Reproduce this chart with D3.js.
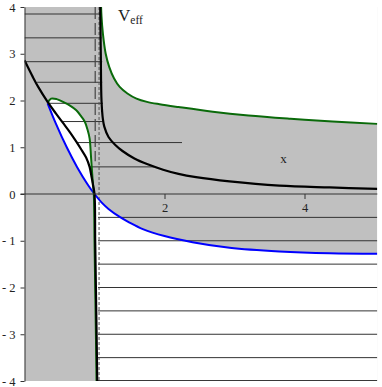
<!DOCTYPE html>
<html>
<head>
<meta charset="utf-8">
<script src="https://cdn.jsdelivr.net/npm/d3@7"></script>
<style>
  body { margin: 0; background: #fff; }
  text { font-family: "Liberation Serif", "DejaVu Serif", serif; fill: #222; }
</style>
</head>
<body>
<div id="root"></div>
<script>
// Curves, as [x, y]
const blueCurve = [[0.33, 1.94], [0.45, 1.5], [0.6, 1.01], [0.75, 0.58], [0.9, 0.21], [1.0, 0.0],
  [1.1, -0.18], [1.2, -0.32], [1.36, -0.49], [1.5, -0.61], [1.69, -0.75], [2.0, -0.9], [2.4, -1.03],
  [2.93, -1.15], [3.64, -1.23], [4.36, -1.27], [5.04, -1.28]];
const greenLoop = [[0.33, 1.95], [0.38, 2.04], [0.46, 2.03], [0.55, 1.97], [0.65, 1.89], [0.74, 1.79],
  [0.81, 1.66], [0.86, 1.55], [0.9, 1.38], [0.93, 1.19], [0.95, 0.8], [0.97, 0.37], [0.99, 0.0],
  [1.0, -1], [1.01, -2], [1.02, -3], [1.03, -4.1]];
const greenRight = [[1.09, 4.2], [1.1, 3.8], [1.12, 3.43], [1.16, 3.0], [1.21, 2.72], [1.28, 2.47],
  [1.36, 2.29], [1.47, 2.15], [1.6, 2.04], [1.75, 1.97], [1.93, 1.92], [2.2, 1.86], [2.69, 1.76],
  [3.2, 1.68], [3.8, 1.61], [4.4, 1.55], [5.04, 1.5]];
const blackLeft = [[0, 2.86], [0.12, 2.5], [0.2, 2.28], [0.33, 1.97], [0.45, 1.72], [0.55, 1.52],
  [0.65, 1.32], [0.74, 1.12], [0.82, 0.93], [0.88, 0.78], [0.93, 0.58], [0.96, 0.35], [0.98, 0.18],
  [1.0, 0], [1.01, -1], [1.02, -2], [1.03, -3], [1.04, -4.1]];
const blackRight = [[1.08, 4.2], [1.09, 3.0], [1.1, 2.0], [1.12, 1.6], [1.14, 1.44], [1.2, 1.22],
  [1.29, 1.06], [1.4, 0.92], [1.57, 0.76], [1.75, 0.64], [1.98, 0.52], [2.2, 0.43], [2.45, 0.36],
  [2.93, 0.27], [3.64, 0.18], [4.36, 0.14], [5.04, 0.11]];

// Energy levels and where each segment starts / stops
const levelE = [3.85, 3.34, 2.83, 2.39, 1.94, 1.55, 1.10, 0.58, -0.5, -1, -1.5, -2, -2.5, -3, -3.5, -3.99];
const levelFrom = [0, 0, 0, 0.18, 0.33, 0.53, 0.76, 0.93, 1.05, 1.05, 1.05, 1.05, 1.05, 1.05, 1.05, 1.05];
const levelTo = [1.09, 1.1, 1.11, 1.11, 1.12, 1.12, 2.25, 1.85, 5.04, 5.04, 5.04, 5.04, 5.04, 5.04, 5.04, 5.04];

// Vertical guide lines
const dashedX = 1.01, dashedY = [4, 0.7];
const dottedX = 1.065;

const yTicks = [-4, -3, -2, -1, 0, 1, 2, 3, 4];
const xTicks = [2, 4];

const width = 382, height = 387;
const x = d3.scaleLinear().domain([0, 5.04]).range([24.5, 377.3]);
const y = d3.scaleLinear().domain([-4, 4]).range([381, 7]);

const svg = d3.select('#root')
  .append('svg')
  .attr('width', width)
  .attr('height', height);

svg.append('clipPath').attr('id', 'plot')
  .append('rect')
  .attr('x', x(0)).attr('y', y(4))
  .attr('width', x(5.04) - x(0)).attr('height', y(-4) - y(4));

const g = svg.append('g').attr('clip-path', 'url(#plot)');
const line = d3.line().x(d => x(d[0])).y(d => y(d[1])).curve(d3.curveCatmullRom.alpha(0.5));
const straight = d3.line().x(d => x(d[0])).y(d => y(d[1]));

// join curved pieces and straight corners into one closed outline
const outline = parts => parts
  .map((p, i) => (p.straight ? straight(p.pts) : line(p.pts)).replace(/^M/, i ? 'L' : 'M'))
  .join('') + 'Z';

// grey background, then white holes
g.append('rect')
  .attr('x', x(0)).attr('y', y(4))
  .attr('width', x(5.04) - x(0)).attr('height', y(-4) - y(4))
  .attr('fill', '#c0c0c0');

const holes = [
  [{pts: blueCurve.filter(d => d[0] <= 1.0)},
   {pts: greenLoop.filter(d => d[1] >= 0).reverse()}],
  [{pts: greenRight},
   {pts: [[5.04, 1.5], [5.3, 1.5], [5.3, 4.5], [1.09, 4.5]], straight: true}],
  [{pts: blueCurve.filter(d => d[0] >= 1.0)},
   {pts: [[5.04, -1.28], [5.3, -1.28], [5.3, -4.5], [1.04, -4.5]], straight: true},
   {pts: blackLeft.filter(d => d[1] <= 0).reverse()}]
];
holes.forEach(h => {
  g.append('path').attr('d', outline(h)).attr('fill', '#fff');
});

// levels
g.selectAll('.level')
  .data(levelE)
  .enter()
    .append('line')
    .attr('x1', (d, i) => x(levelFrom[i]))
    .attr('x2', (d, i) => x(levelTo[i]))
    .attr('y1', d => y(d))
    .attr('y2', d => y(d))
    .attr('stroke', '#333')
    .attr('stroke-width', 1);

// vertical guides
g.append('line')
  .attr('x1', x(dashedX)).attr('x2', x(dashedX))
  .attr('y1', y(dashedY[0])).attr('y2', y(dashedY[1]))
  .attr('stroke', '#444').attr('stroke-width', 1.2)
  .attr('stroke-dasharray', '12,4');
g.append('line')
  .attr('x1', x(dottedX)).attr('x2', x(dottedX))
  .attr('y1', y(4)).attr('y2', y(-4))
  .attr('stroke', '#555').attr('stroke-width', 1)
  .attr('stroke-dasharray', '3,2');

// curves
const curves = [
  {data: blueCurve, color: '#0000ff', w: 2},
  {data: greenLoop, color: '#0a6a0a', w: 2},
  {data: greenRight, color: '#0a6a0a', w: 2},
  {data: blackLeft, color: '#000', w: 2.2},
  {data: blackRight, color: '#000', w: 2.2}
];
g.selectAll('.curve')
  .data(curves)
  .enter()
    .append('path')
    .attr('d', d => line(d.data))
    .attr('fill', 'none')
    .attr('stroke', d => d.color)
    .attr('stroke-width', d => d.w);

// axes
const fmt = d => d < 0 ? '- ' + Math.abs(d) : String(d);
const yAxis = svg.append('g')
  .attr('transform', `translate(${x(0)},0)`)
  .call(d3.axisLeft(y).tickValues(yTicks).tickFormat(fmt).tickSize(4).tickSizeOuter(0).tickPadding(5));
const xAxis = svg.append('g')
  .attr('transform', `translate(0,${y(0)})`)
  .call(d3.axisBottom(x).tickValues(xTicks).tickFormat(d3.format('d')).tickSize(5).tickSizeOuter(0).tickPadding(4));

[yAxis, xAxis].forEach(a => {
  a.selectAll('path, line').attr('stroke', '#333');
  a.selectAll('text')
    .style('font-family', '"Liberation Serif", serif')
    .style('font-size', '12.5px')
    .attr('fill', '#222');
});
xAxis.select('.domain').attr('d', `M${x(0) - 4},0H${x(5.04)}`);

// labels
const veff = svg.append('text')
  .attr('x', 118).attr('y', 21)
  .style('font-size', '17px');
veff.append('tspan').text('V');
veff.append('tspan').attr('dy', 3).style('font-size', '11.5px').text('eff');

svg.append('text')
  .attr('x', x(3.7)).attr('y', 163)
  .attr('text-anchor', 'middle')
  .style('font-size', '13px')
  .text('x');
</script>
</body>
</html>
